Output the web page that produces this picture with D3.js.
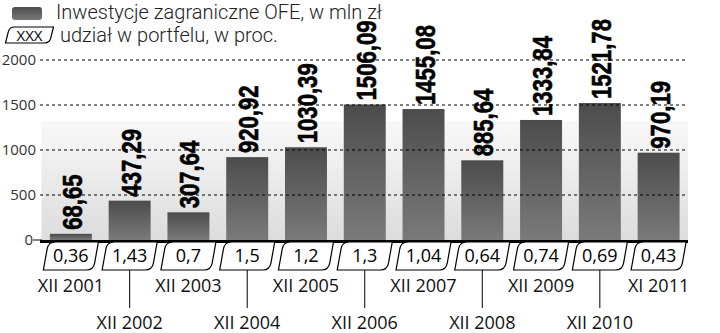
<!DOCTYPE html>
<html>
<head>
<meta charset="utf-8">
<script src="https://cdn.jsdelivr.net/npm/d3@7"></script>
<style>
body { margin: 0; background: #fff; }
svg { display: block; font-family: "Open Sans", "Noto Sans", sans-serif; }
.tick-label { font-size: 15px; fill: #333; }
.value { font-family: "Liberation Sans", "DejaVu Sans", sans-serif; font-weight: bold; font-size: 27px; fill: #000; stroke: #000; stroke-width: 0.6px; }
.share { font-size: 18px; fill: #000; }
.period { font-size: 18px; fill: #111; }
.legend { font-family: Roboto, "Open Sans", sans-serif; font-weight: 300; font-size: 20px; fill: #222; }
</style>
</head>
<body>
<div id="chart"></div>
<script>
var periods = ["XII 2001", "XII 2002", "XII 2003", "XII 2004", "XII 2005", "XII 2006",
    "XII 2007", "XII 2008", "XII 2009", "XII 2010", "XI 2011"];
var investments = [68.65, 437.29, 307.64, 920.92, 1030.39, 1506.09, 1455.08, 885.64, 1333.84, 1521.78, 970.19];
var shares = [0.36, 1.43, 0.7, 1.5, 1.2, 1.3, 1.04, 0.64, 0.74, 0.69, 0.43];
var yTicks = [0, 500, 1000, 1500, 2000];

var width = 720;
var height = 333;
var left = 41.5;
var right = 688;

var xScale = d3.scaleBand()
    .domain(periods)
    .range([left, right])
    .paddingInner(0.286)
    .paddingOuter(0.143);

var yScale = d3.scaleLinear()
    .domain([0, 2000])
    .range([240, 60]);

var comma = function (s) { return String(s).replace(".", ","); };
var fmt = d3.format(".2f");

var svg = d3.select("#chart")
    .append("svg")
        .attr("width", width)
        .attr("height", height);

var defs = svg.append("defs");

var bg = defs.append("linearGradient")
    .attr("id", "bg")
    .attr("x1", 0).attr("y1", 0).attr("x2", 0).attr("y2", 1);
bg.append("stop").attr("offset", "0%").attr("stop-color", "#f8f8f8");
bg.append("stop").attr("offset", "100%").attr("stop-color", "#dcdcdc");

var barGrad = defs.append("linearGradient")
    .attr("id", "bar")
    .attr("x1", 0).attr("y1", 0).attr("x2", 0).attr("y2", 1);
barGrad.append("stop").attr("offset", "0%").attr("stop-color", "#4c4c4c");
barGrad.append("stop").attr("offset", "100%").attr("stop-color", "#7a7a7a");

// background panel
svg.append("rect")
    .attr("x", left)
    .attr("y", yScale(1320))
    .attr("width", right - left)
    .attr("height", yScale(0) - yScale(1320))
    .attr("fill", "url(#bg)");

// bars
svg.selectAll("rect.bar")
    .data(investments)
    .enter()
    .append("rect")
        .attr("class", "bar")
        .attr("x", function (d, i) { return xScale(periods[i]); })
        .attr("y", function (d) { return yScale(d); })
        .attr("width", xScale.bandwidth())
        .attr("height", function (d) { return yScale(0) - yScale(d); })
        .attr("fill", "url(#bar)");

// grid lines on top of the bars
svg.selectAll("line.grid")
    .data(yTicks.slice(1))
    .enter()
    .append("line")
        .attr("class", "grid")
        .attr("x1", 40)
        .attr("x2", right)
        .attr("y1", function (d) { return yScale(d); })
        .attr("y2", function (d) { return yScale(d); })
        .attr("stroke", "#000")
        .attr("stroke-width", 1)
        .attr("stroke-dasharray", "3,3");

svg.selectAll("text.tick-label")
    .data(yTicks)
    .enter()
    .append("text")
        .attr("class", "tick-label")
        .attr("x", function (d) { return d === 0 ? 33 : 36; })
        .attr("y", function (d) { return yScale(d); })
        .attr("dy", "0.36em")
        .attr("text-anchor", "end")
        .text(function (d) { return d; });

// baseline
svg.append("line")
    .attr("x1", 33)
    .attr("x2", 42)
    .attr("y1", yScale(0))
    .attr("y2", yScale(0))
    .attr("stroke", "#000")
    .attr("stroke-width", 1);

svg.append("line")
    .attr("x1", 40)
    .attr("x2", right)
    .attr("y1", yScale(0) + 1.5)
    .attr("y2", yScale(0) + 1.5)
    .attr("stroke", "#000")
    .attr("stroke-width", 3);

// value labels, condensed along the text direction
svg.selectAll("text.value")
    .data(investments)
    .enter()
    .append("text")
        .attr("class", "value")
        .attr("transform", function (d, i) {
            var cx = xScale(periods[i]) + xScale.bandwidth() / 2;
            return "translate(" + (cx + 11) + "," + (yScale(d) - 4) + ")rotate(-90)scale(0.82,1)";
        })
        .text(function (d) { return comma(fmt(d)); });

// slanted box with two rounded corners
function tag(cx, top, bottom, hw, sk, r) {
    var tl = [cx - hw + sk, top], tr = [cx + hw + sk, top];
    var br = [cx + hw - sk, bottom], bl = [cx - hw - sk, bottom];
    var sideLen = Math.hypot(tr[0] - br[0], bottom - top);
    var f = r / sideLen;
    var p = d3.path();
    p.moveTo(tl[0] + r, top);
    p.lineTo(tr[0], top);
    p.lineTo(br[0] + (tr[0] - br[0]) * f, bottom - (bottom - top) * f);
    p.quadraticCurveTo(br[0], bottom, br[0] - r, bottom);
    p.lineTo(bl[0], bottom);
    p.lineTo(tl[0] + (bl[0] - tl[0]) * f, top + (bottom - top) * f);
    p.quadraticCurveTo(tl[0], top, tl[0] + r, top);
    p.closePath();
    return p.toString();
}

var shareGroups = svg.selectAll("g.share")
    .data(shares)
    .enter()
    .append("g")
        .attr("class", "share");

shareGroups.append("path")
    .attr("d", function (d, i) {
        var cx = xScale(periods[i]) + xScale.bandwidth() / 2;
        return tag(cx, 242, 270, 25, 2.5, 7);
    })
    .attr("fill", "#fff")
    .attr("stroke", "#000")
    .attr("stroke-width", 1.2);

shareGroups.append("text")
    .attr("class", "share")
    .attr("x", function (d, i) { return xScale(periods[i]) + xScale.bandwidth() / 2; })
    .attr("y", 262)
    .attr("text-anchor", "middle")
    .text(function (d) { return comma(d); });

// period labels, alternating rows
svg.selectAll("line.leader")
    .data(periods.filter(function (d, i) { return i % 2 === 1; }))
    .enter()
    .append("line")
        .attr("class", "leader")
        .attr("x1", function (d) { return xScale(d) + xScale.bandwidth() / 2; })
        .attr("x2", function (d) { return xScale(d) + xScale.bandwidth() / 2; })
        .attr("y1", 270)
        .attr("y2", 308)
        .attr("stroke", "#000")
        .attr("stroke-width", 1);

svg.selectAll("text.period")
    .data(periods)
    .enter()
    .append("text")
        .attr("class", "period")
        .attr("x", function (d) { return xScale(d) + xScale.bandwidth() / 2; })
        .attr("y", function (d, i) { return i % 2 === 0 ? 292 : 329; })
        .attr("text-anchor", "middle")
        .text(function (d) { return d; });

// legend
svg.append("rect")
    .attr("x", 12)
    .attr("y", 7)
    .attr("width", 30)
    .attr("height", 13)
    .attr("rx", 3)
    .attr("fill", "url(#bar)");

svg.append("text")
    .attr("class", "legend")
    .attr("x", 56)
    .attr("y", 19)
    .text("Inwestycje zagraniczne OFE, w mln zł");

svg.append("path")
    .attr("d", tag(29.5, 27, 43, 22, 2, 5))
    .attr("fill", "#fff")
    .attr("stroke", "#000")
    .attr("stroke-width", 1.2);

svg.append("text")
    .attr("class", "share")
    .attr("x", 29.5)
    .attr("y", 40.5)
    .attr("text-anchor", "middle")
    .style("font-size", "15px")
    .text("XXX");

svg.append("text")
    .attr("class", "legend")
    .attr("x", 60)
    .attr("y", 42)
    .text("udział w portfelu, w proc.");
</script>
</body>
</html>
